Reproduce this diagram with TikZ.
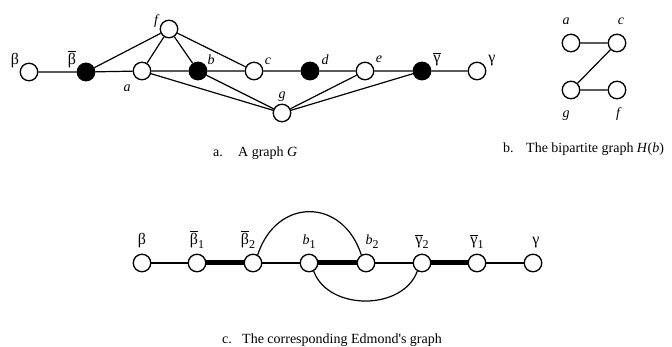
\documentclass[tikz,border=0pt]{standalone}
\usepackage{fontspec}
\setmainfont{Liberation Serif}
\newcommand\gk[1]{{\fontsize{16}{18}\selectfont #1}}
\newcommand\obar[1]{\leavevmode\vbox{\hrule height 1.4pt\kern1.4pt\hbox{#1}}}
\newcommand\sub[1]{\raisebox{-3.5pt}{\fontsize{12}{13}\selectfont #1}}
\newcommand\apos{{\addfontfeatures{Ligatures=TeXOff}'}}
\begin{document}
\begin{tikzpicture}[x=1pt,y=-1pt,
  vtx/.style={circle,draw,line width=1.3pt,minimum size=17.5pt,inner sep=0pt,fill=white},
  blk/.style={vtx,fill=black},
  lbl/.style={anchor=base,inner sep=0pt,font=\fontsize{14}{16}\selectfont},
  captxt/.style={anchor=base west,inner sep=0pt,font=\fontsize{14}{16}\selectfont},
  edge/.style={line width=1.2pt},
  heavy/.style={line width=5pt}]
\useasboundingbox (0,0) rectangle (672,347);
% ---- graph G
\node[vtx] (beta) at (29,72) {};
\node[blk] (betab) at (86,72) {};
\node[vtx] (a) at (142,71) {};
\node[vtx] (f) at (169,29) {};
\node[blk] (b) at (198,71) {};
\node[vtx] (c) at (254,71) {};
\node[blk] (d) at (310,71) {};
\node[vtx] (g) at (282,113) {};
\node[vtx] (e) at (365,71) {};
\node[blk] (gammab) at (422,71) {};
\node[vtx] (gamma) at (477,71) {};
\draw[edge] (beta) -- (betab) (betab) -- (a) (a) -- (b) (b) -- (c) (c) -- (d) (d) -- (e) (e) -- (gammab) (gammab) -- (gamma);
\draw[edge] (betab) -- (f) (f) -- (a) (f) -- (b) (f) -- (c);
\draw[edge] (a) -- (g) (b) -- (g) (g) -- (e) (g) -- (gammab);
\node[lbl] (lbeta) at (15,65) {\gk{β}};
\node[lbl] (lbetab) at (72,65) {\obar{\gk{β}}};
\node[lbl] (la) at (127,92) {\itshape a};
\node[lbl] (lf) at (156,25) {\itshape f};
\node[lbl] (lb) at (211,65) {\itshape b};
\node[lbl] (lc) at (268,65) {\itshape c};
\node[lbl] (ld) at (325,65) {\itshape d};
\node[lbl] (lg) at (282,99) {\itshape g};
\node[lbl] (le) at (379,63) {\itshape e};
\node[lbl] (lgammab) at (437,63) {\obar{\gk{γ}}};
\node[lbl] (lgamma) at (492,63) {\gk{γ}};
\node[captxt] (capa1) at (213,157) {a.};
\node[captxt] (capa2) at (238,157) {A graph \textit{G}};
% ---- bipartite graph H(b)
\node[vtx] (ha) at (571,43) {};
\node[vtx] (hc) at (617,43) {};
\node[vtx] (hg) at (571,90) {};
\node[vtx] (hf) at (617,90) {};
\draw[edge] (ha) -- (hc) (hc) -- (hg) (hg) -- (hf);
\node[lbl] (lha) at (566,25) {\itshape a};
\node[lbl] (lhc) at (621,25) {\itshape c};
\node[lbl] (lhg) at (566,118) {\itshape g};
\node[lbl] (lhf) at (618,118) {\itshape f};
\node[captxt] (capb1) at (503,153) {b.};
\node[captxt] (capb2) at (526,153) {The bipartite graph \textit{H}(\textit{b})};
% ---- Edmonds graph
\node[vtx] (eb) at (142,263) {};
\node[vtx] (eb1) at (197,263) {};
\node[vtx] (eb2) at (253,263) {};
\node[vtx] (b1) at (309,263) {};
\node[vtx] (b2) at (366,263) {};
\node[vtx] (eg2) at (422,263) {};
\node[vtx] (eg1) at (477,263) {};
\node[vtx] (eg) at (533,263) {};
\draw[edge] (eb) -- (eb1) (eb2) -- (b1) (b2) -- (eg2) (eg1) -- (eg);
\draw[heavy] (eb1) -- (eb2) (b1) -- (b2) (eg2) -- (eg1);
\draw[edge] (eb2.60) to[out=72,in=108,looseness=1.5] (b2.120);
\draw[edge] (b1.-60) to[out=-70,in=-110,looseness=1.05] (eg2.-120);
\node[lbl] (leb) at (142,245) {\gk{β}};
\node[lbl] (leb1) at (197,245) {\obar{\gk{β}}\sub{1}};
\node[lbl] (leb2) at (248,245) {\obar{\gk{β}}\sub{2}};
\node[lbl] (lb1) at (309,245) {\textit{b}\sub{1}};
\node[lbl] (lb2) at (372,245) {\textit{b}\sub{2}};
\node[lbl] (leg2) at (422,245) {\obar{\gk{γ}}\sub{2}};
\node[lbl] (leg1) at (477,245) {\obar{\gk{γ}}\sub{1}};
\node[lbl] (leg) at (536,245) {\gk{γ}};
\node[captxt] (capc1) at (222,343) {c.};
\node[captxt] (capc2) at (242,343) {The corresponding Edmond\apos s graph};
\end{tikzpicture}
\end{document}
